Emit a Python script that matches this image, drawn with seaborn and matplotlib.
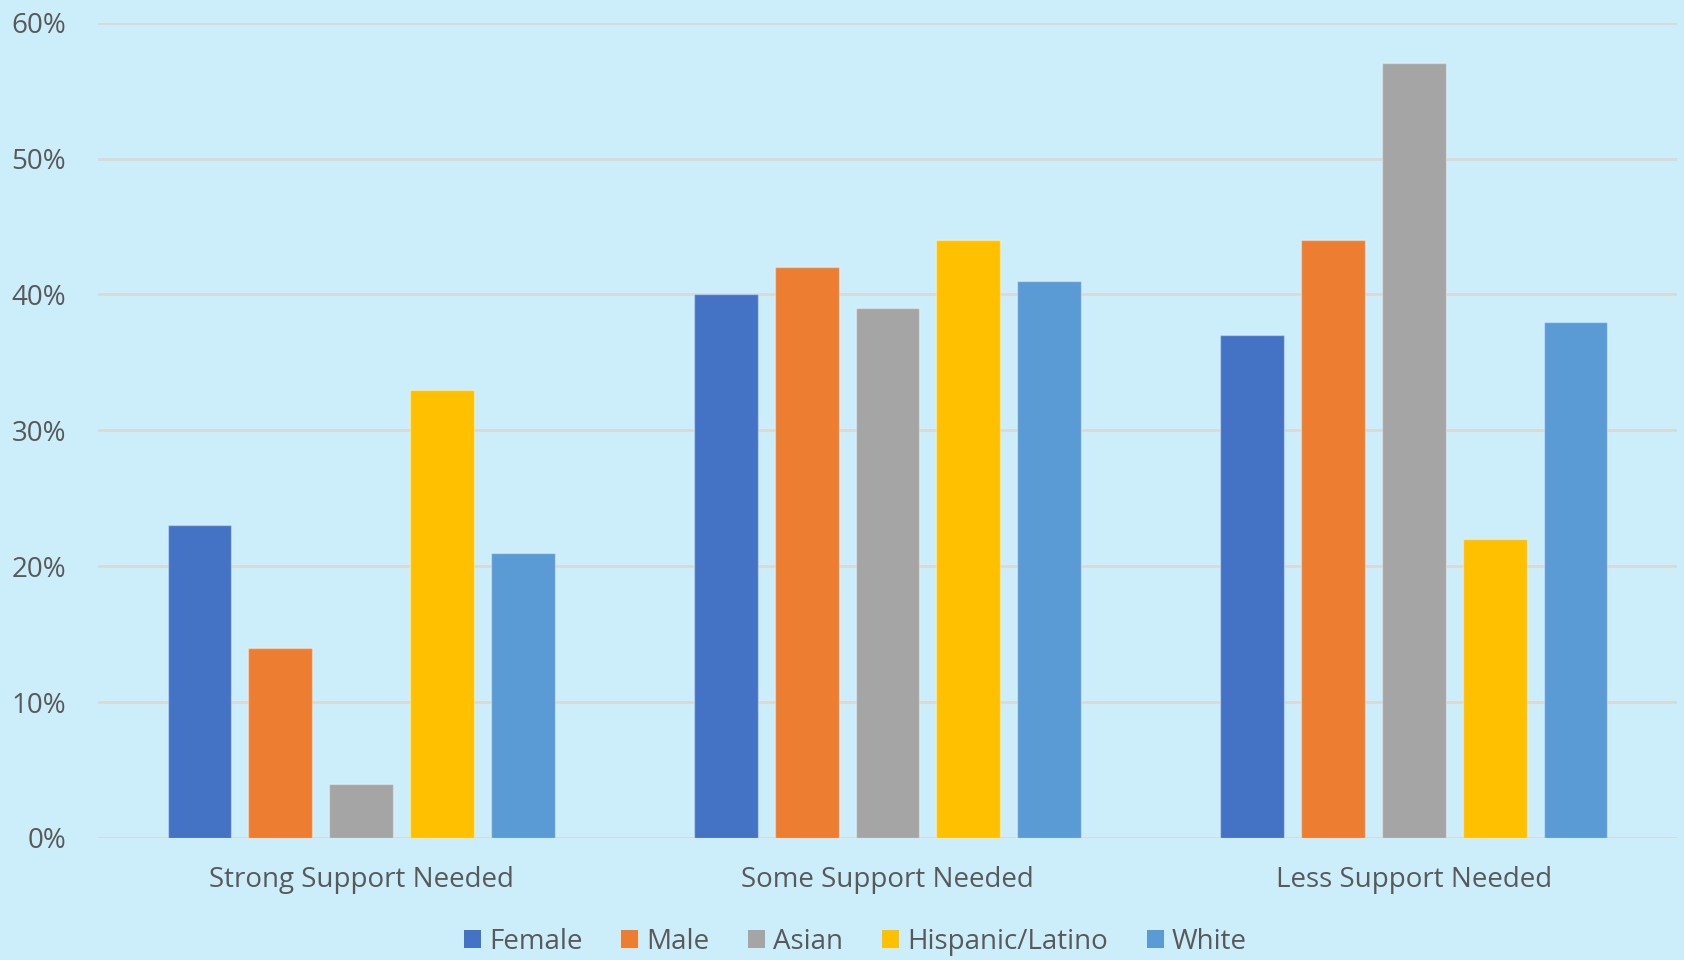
import pandas as pd
import numpy as np
import matplotlib
matplotlib.use("Agg")
import matplotlib.pyplot as plt
import seaborn as sns
from matplotlib.ticker import PercentFormatter
from matplotlib.patches import Patch

categories = ["Strong Support Needed", "Some Support Needed", "Less Support Needed"]
groups = ["Female", "Male", "Asian", "Hispanic/Latino", "White"]
female = [0.23, 0.40, 0.37]
male = [0.14, 0.42, 0.44]
asian = [0.04, 0.39, 0.57]
hispanic = [0.33, 0.44, 0.22]
white = [0.21, 0.41, 0.38]
colors = ["#4472C4", "#ED7D31", "#A5A5A5", "#FFC000", "#5B9BD5"]

BG = "#CCEEFA"
TEXT = "#595959"


def build_frame():
    rows = []
    for g, vals in zip(groups, [female, male, asian, hispanic, white]):
        for c, v in zip(categories, vals):
            rows.append({"Category": c, "Group": g, "Share": v})
    return pd.DataFrame(rows)


def main():
    df = build_frame()
    sns.set_theme(style="white")
    plt.rcParams["font.family"] = ["Open Sans", "DejaVu Sans"]

    fig = plt.figure(figsize=(16.84, 9.6), dpi=100, facecolor=BG)
    ax = fig.add_axes([0.0582, 0.1271, 0.9376, 0.8493])
    ax.set_facecolor(BG)

    sns.barplot(data=df, x="Category", y="Share", hue="Group",
                order=categories, hue_order=groups, palette=colors,
                saturation=1, width=0.768, gap=0.21,
                edgecolor=(1, 1, 1, 0.35), linewidth=1, legend=False, ax=ax)

    ax.set_xlim(-0.5, 2.5)
    ax.set_ylim(0, 0.6)
    ax.set_yticks(np.arange(0, 0.61, 0.1))
    ax.yaxis.set_major_formatter(PercentFormatter(1.0, decimals=0))
    ax.yaxis.grid(True, color="#D9D9D9", linewidth=2)
    ax.set_axisbelow(True)
    for s in ax.spines.values():
        s.set_visible(False)
    ax.tick_params(axis="y", length=0, pad=23, labelsize=20, labelcolor=TEXT)
    ax.tick_params(axis="x", length=0, pad=20, labelsize=20, labelcolor=TEXT)
    ax.set_xlabel("")
    ax.set_ylabel("")

    handles = [Patch(facecolor=c, edgecolor="none", label=g) for g, c in zip(groups, colors)]
    leg = fig.legend(handles=handles, loc="center", bbox_to_anchor=(0.508, 0.019),
                     ncol=5, frameon=False, fontsize=20, handlelength=0.6,
                     handleheight=0.6, handletextpad=0.3, columnspacing=1.4)
    for t in leg.get_texts():
        t.set_color(TEXT)

    fig.savefig("out.png", dpi=100, facecolor=BG)
    plt.close(fig)


if __name__ == "__main__":
    main()
